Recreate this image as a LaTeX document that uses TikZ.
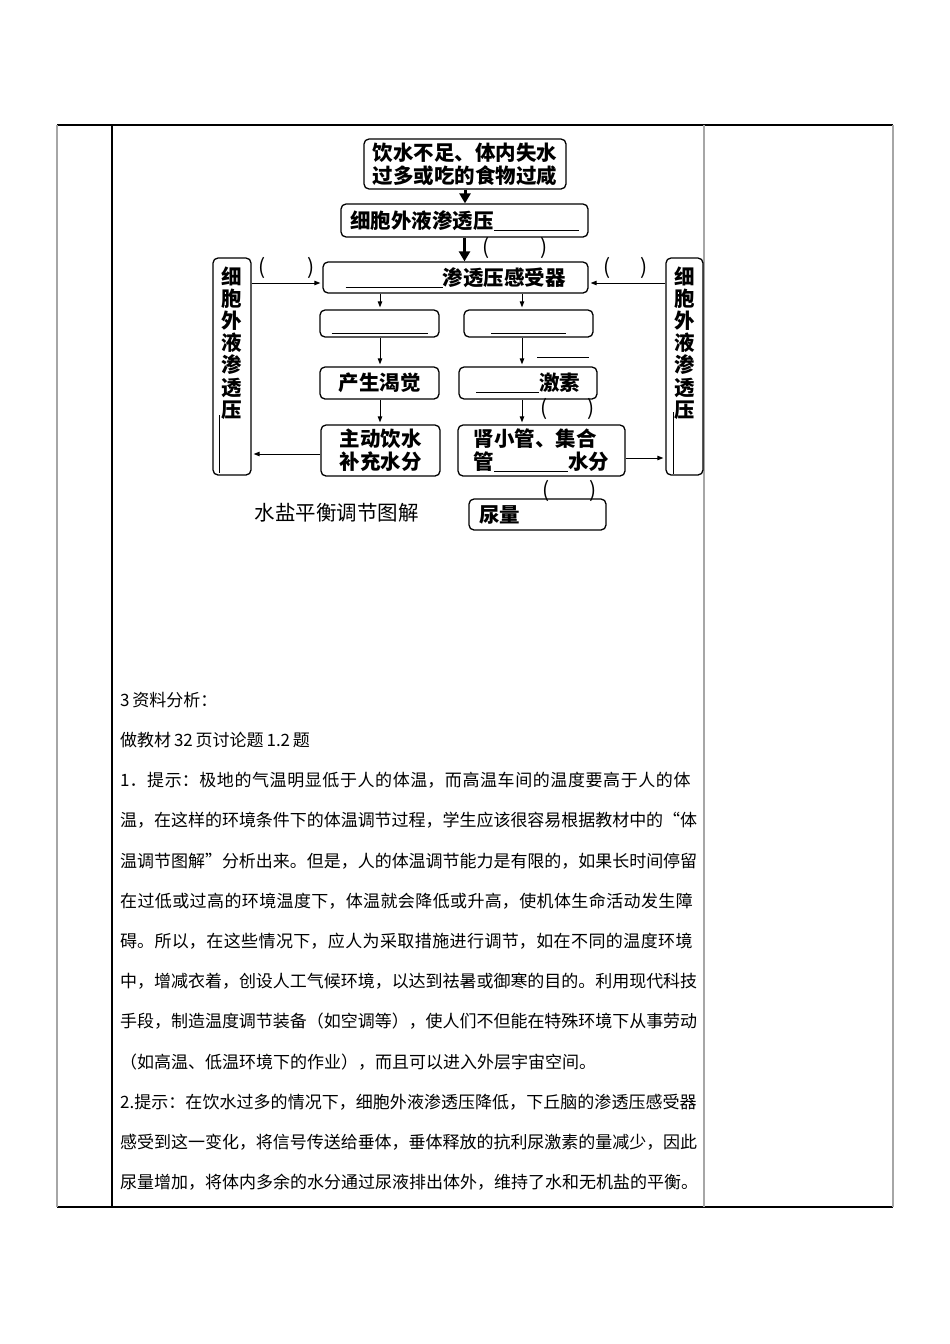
\documentclass[tikz,border=0pt]{standalone}
\usepackage{fontspec}
\setmainfont{Noto Sans CJK SC}
\usetikzlibrary{arrows.meta}
\XeTeXlinebreaklocale "zh"
\XeTeXlinebreakskip=0pt plus 3pt minus 1pt

\begin{document}
\begin{tikzpicture}[x=1pt, y=-1pt,
    box/.style={draw, rounded corners=5pt, line width=1.3pt, inner sep=0pt, align=center,
        font=\bfseries\fontsize{20.5}{23}\selectfont},
    one/.style={text height=18pt, text depth=2.4pt},
    tall/.style={draw, rounded corners=5pt, line width=1.3pt, inner sep=0pt,
        minimum width=38pt, minimum height=217pt},
    vtext/.style={inner sep=0pt, align=center, font=\bfseries\fontsize{20.5}{22.2}\selectfont},
    paren/.style={inner sep=0pt, font=\fontsize{21}{23}\selectfont},
    bigarr/.style={line width=3pt, -{Triangle[length=10pt,width=11pt]}},
    arr/.style={line width=1pt, shorten >=2pt, -{Triangle[length=6pt,width=4.5pt]}},
    blankline/.style={line width=0.9pt},
    tline/.style={anchor=west, inner sep=0pt, font=\fontsize{17}{20}\selectfont},
    jline/.style={tline, text width=577pt}]
\useasboundingbox (0,0) rectangle (950,1344);

% table
\draw[line width=1.2pt] (57,125) -- (893,125);
\draw[line width=1.2pt] (57,1207) -- (893,1207);
\draw[line width=1.5pt, gray!70] (57,125) -- (57,1207);
\draw[line width=1.2pt] (112,125) -- (112,1207);
\draw[line width=1.5pt, gray!70] (704,125) -- (704,1207);
\draw[line width=1.5pt, gray!70] (893,125) -- (893,1207);

% diagram
\node[box, minimum width=202pt, minimum height=50pt] (src) at (465,164) {饮水不足、体内失水\\过多或吃的食物过咸};
\node[box, one, minimum width=247pt, minimum height=33pt] (osm) at (464.5,220.5) {细胞外液渗透压\underline{\hspace{85pt}}};
\node[box, one, minimum width=265pt, minimum height=31pt] (rec) at (455.5,277.5) {\underline{\hspace{97pt}}渗透压感受器};
\node[box, one, minimum width=119pt, minimum height=27pt] (hl) at (379.5,323.5) {\underline{\hspace{96pt}}};
\node[box, one, minimum width=129pt, minimum height=27pt] (hr) at (528.5,323.5) {\underline{\hspace{75pt}}};
\node[box, one, draw=none] (adh) at (563,348) {\underline{\hspace{52pt}}};
\node[box, one, minimum width=119pt, minimum height=32pt] (thirst) at (379.5,383) {产生渴觉};
\node[box, one, minimum width=138pt, minimum height=32pt] (horm) at (528,383) {\underline{\hspace{63pt}}激素};
\node[box, minimum width=119pt, minimum height=51pt] (drink) at (380.5,450.5) {主动饮水\\补充水分};
\node[box, align=left, minimum width=167pt, minimum height=51pt] (kid) at (541.5,450.5) {肾小管、集合\\管\underline{\hspace{74pt}}水分};
\node[box, one, align=left, text width=117pt, minimum width=137pt, minimum height=31pt] (urine) at (537.5,514.5) {尿量};

\node[tall] (lbox) at (232,366.5) {};
\node[tall, minimum width=37pt] (rbox) at (684.5,366.5) {};
\node[vtext] (ltxt) at (232,343) {细\\胞\\外\\液\\渗\\透\\压};
\node[vtext] (rtxt) at (684.5,343) {细\\胞\\外\\液\\渗\\透\\压};
\draw[blankline] (219,415) -- (219,473);
\draw[blankline] (673,412) -- (673,474);

\node[paren] (q1) at (515,248) {\makebox[66pt]{(\hfill)}};
\node[paren] (q2) at (286.5,268) {\makebox[57pt]{(\hfill)}};
\node[paren] (q3) at (625.5,268) {\makebox[45pt]{(\hfill)}};
\node[paren] (q4) at (567.5,409) {\makebox[55pt]{(\hfill)}};
\node[paren] (q5) at (569.5,491) {\makebox[55pt]{(\hfill)}};

\node[inner sep=0pt, font=\fontsize{20.5}{23}\selectfont] (cap) at (336.5,513) {水盐平衡调节图解};

\draw[bigarr] (src.south) -- (src.south |- osm.north);
\draw[bigarr] (osm.south) -- (osm.south |- rec.north);

\coordinate (lx) at (380,0);
\coordinate (rx) at (522,0);
\foreach \a/\b in {rec/hl, hl/thirst, thirst/drink}
    \draw[arr] (\a.south -| lx) -- (\b.north -| lx);
\foreach \a/\b in {rec/hr, hr/horm, horm/kid}
    \draw[arr] (\a.south -| rx) -- (\b.north -| rx);

\coordinate (ya) at (0,283);
\coordinate (yb) at (0,454);
\coordinate (yc) at (0,458);
\draw[arr] (lbox.east |- ya) -- (rec.west |- ya);
\draw[arr] (rbox.west |- ya) -- (rec.east |- ya);
\draw[arr] (drink.west |- yb) -- (lbox.east |- yb);
\draw[arr] (kid.east |- yc) -- (rbox.west |- yc);

% text below
\node[tline] (p0) at (120,700) {3\,资料分析：};
\node[tline] (p1) at (120,740.2) {做教材\,32\,页讨论题\,1.2\,题};
\foreach \i/\t in {
    2/{1．提示：极地的气温明显低于人的体温，而高温车间的温度要高于人的体},
    3/{温，在这样的环境条件下的体温调节过程，学生应该很容易根据教材中的“体},
    4/{温调节图解”分析出来。但是，人的体温调节能力是有限的，如果长时间停留},
    5/{在过低或过高的环境温度下，体温就会降低或升高，使机体生命活动发生障},
    6/{碍。所以，在这些情况下，应人为采取措施进行调节，如在不同的温度环境},
    7/{中，增减衣着，创设人工气候环境，以达到祛暑或御寒的目的。利用现代科技},
    8/{手段，制造温度调节装备（如空调等），使人们不但能在特殊环境下从事劳动},
    10/{2.提示：在饮水过多的情况下，细胞外液渗透压降低，下丘脑的渗透压感受器},
    11/{感受到这一变化，将信号传送给垂体，垂体释放的抗利尿激素的量减少，因此}}
    {\node[jline] (p\i) at (120,{700+40.2*\i}) {\parfillskip=0pt\relax\t\endgraf};}
\node[tline] (p9) at (120,1061.8) {（如高温、低温环境下的作业），而且可以进入外层宇宙空间。};
\node[tline] (p12) at (120,1182.4) {尿量增加，将体内多余的水分通过尿液排出体外，维持了水和无机盐的平衡。};
\end{tikzpicture}
\end{document}
